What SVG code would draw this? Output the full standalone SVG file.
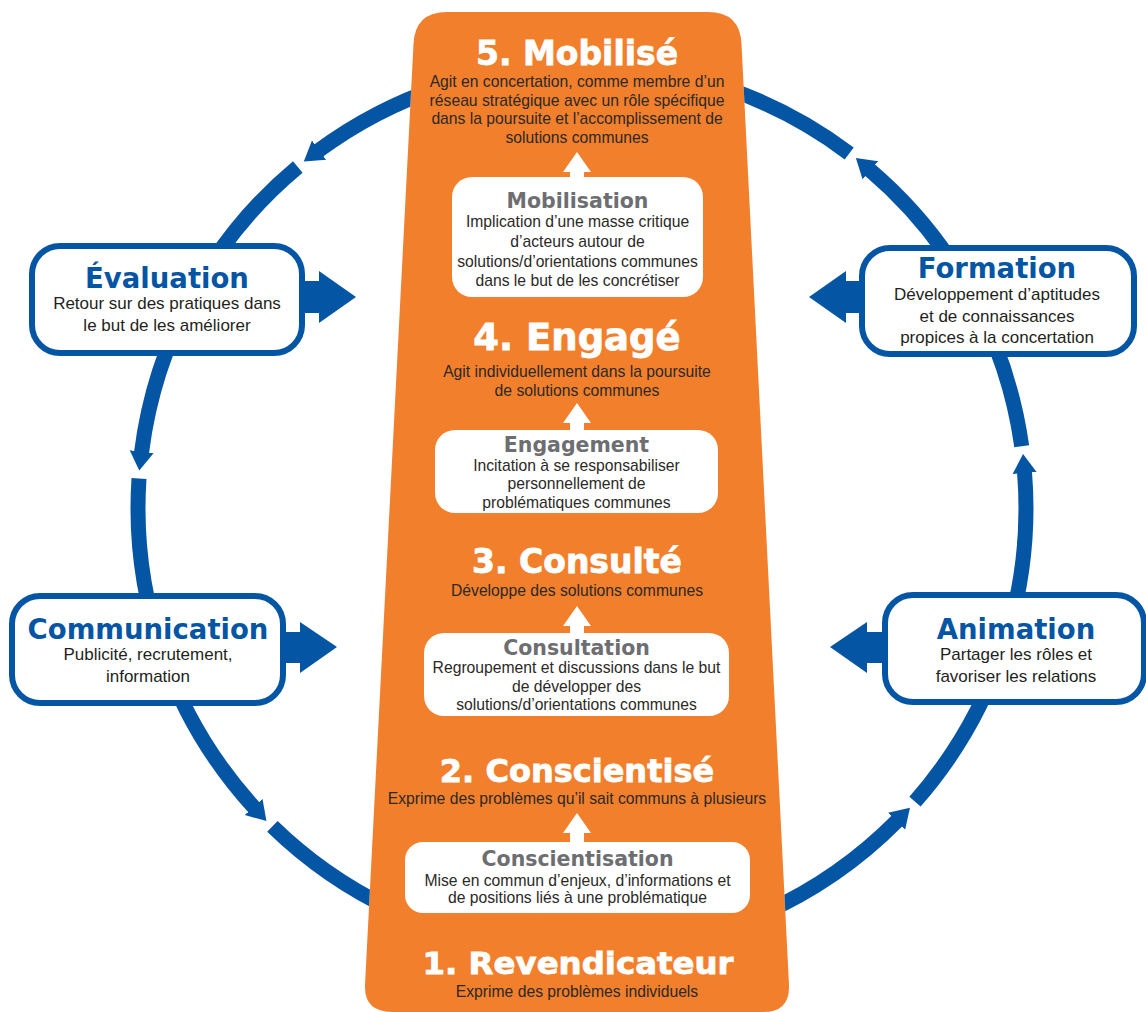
<svg xmlns="http://www.w3.org/2000/svg" width="1146" height="1012" viewBox="0 0 1146 1012">
<style>
.arc{fill:none;stroke:#0455A4;stroke-width:15;marker-end:url(#ah)}
.blk{fill:#0455A4}
.up{fill:#fff}
.col{fill:#F27F2C}
.wbox{fill:#fff}
.box{fill:#fff;stroke:#0455A4;stroke-width:6}
.h{font-family:"DejaVu Sans",sans-serif;font-weight:bold;fill:#fff;stroke:#fff;stroke-width:0.8;text-anchor:middle}
.t{font-family:"Liberation Sans",Arial,sans-serif;font-size:15.7px;fill:#2b2926;text-anchor:middle}
.g{font-family:"DejaVu Sans",sans-serif;font-weight:bold;font-size:20.5px;fill:#6d6e71;text-anchor:middle}
.bt{font-family:"DejaVu Sans",sans-serif;font-weight:bold;font-size:27.5px;fill:#0455A4;text-anchor:middle}
.st{font-family:"Liberation Sans",Arial,sans-serif;font-size:17px;fill:#231f20;text-anchor:middle}
</style>
<defs>
<marker id="ah" markerUnits="userSpaceOnUse" markerWidth="20" markerHeight="28" viewBox="0 -14 20 28" refX="1" refY="0" orient="auto">
<path d="M0,-12 L19,0 L0,12 Z" fill="#0455A4"/>
</marker>
<path id="uparrow" d="M0,0 L14,20 L7,20 L7,30 L-7,30 L-7,20 L-14,20 Z"/>
<clipPath id="outside-column">
<path clip-rule="evenodd" d="M0,0 H1146 V1012 H0 Z M447,12 L708,12 Q740,12 741.5,44 L789,985 Q790,1012 763,1012 L392,1012 Q364,1012 365,985 L413.5,44 Q415,12 447,12 Z"/>
</clipPath>
</defs>

<g id="column">
<path class="col" d="M447,12 L708,12 Q740,12 741.5,44 L789,985 Q790,1012 763,1012 L392,1012 Q364,1012 365,985 L413.5,44 Q415,12 447,12 Z"/>
</g>

<g id="connectors">
<g id="cycle" clip-path="url(#outside-column)">
<path class="arc" d="M849.2,153.4 A444,444 0 0 0 318.3,150.8"/>
<path class="arc" d="M297.8,166.9 A444,444 0 0 0 141.5,452.7"/>
<path class="arc" d="M139.0,478.6 A444,444 0 0 0 254.3,807.7"/>
<path class="arc" d="M272.4,826.3 A444,444 0 0 0 897.3,820.6"/>
<path class="arc" d="M915.0,801.6 A444,444 0 0 0 1024.5,472.0"/>
<path class="arc" d="M1021.7,446.2 A444,444 0 0 0 869.6,169.7"/>
</g>
<g id="block-arrows">
<path class="blk" d="M300,281 H319 V271 L356,297 L319,323 V313 H300 Z"/>
<path class="blk" d="M283,632 H300 V622 L337,647 L300,673 V663 H283 Z"/>
<path class="blk" d="M864,281 H846 V271 L809,297 L846,323 V313 H864 Z"/>
<path class="blk" d="M887,632 H867 V622 L830,647 L867,673 V663 H887 Z"/>
</g>
<g id="stage-arrows">
<use href="#uparrow" class="up" x="577" y="152"/>
<use href="#uparrow" class="up" x="577" y="403"/>
<use href="#uparrow" class="up" x="577" y="606"/>
<use href="#uparrow" class="up" x="577" y="813"/>
</g>
</g>

<g id="stage5">
<text class="h" x="577" y="65" font-size="33">5. Mobilisé</text>
<text class="t" x="577" y="87">Agit en concertation, comme membre d’un</text>
<text class="t" x="577" y="106">réseau stratégique avec un rôle spécifique</text>
<text class="t" x="577" y="124">dans la poursuite et l’accomplissement de</text>
<text class="t" x="577" y="143">solutions communes</text>
</g>
<g id="mobilisation">
<rect class="wbox" x="452" y="177" width="251" height="120" rx="20"/>
<text class="g" x="577.5" y="208">Mobilisation</text>
<text class="t" x="577.5" y="227">Implication d’une masse critique</text>
<text class="t" x="577.5" y="247">d’acteurs autour de</text>
<text class="t" x="577.5" y="267">solutions/d’orientations communes</text>
<text class="t" x="577.5" y="286">dans le but de les concrétiser</text>
</g>

<g id="stage4">
<text class="h" x="577" y="350" font-size="37">4. Engagé</text>
<text class="t" x="577" y="377">Agit individuellement dans la poursuite</text>
<text class="t" x="577" y="396">de solutions communes</text>
</g>
<g id="engagement">
<rect class="wbox" x="435" y="430" width="283" height="83" rx="20"/>
<text class="g" x="576.5" y="452">Engagement</text>
<text class="t" x="576.5" y="471">Incitation à se responsabiliser</text>
<text class="t" x="576.5" y="489">personnellement de</text>
<text class="t" x="576.5" y="508">problématiques communes</text>
</g>

<g id="stage3">
<text class="h" x="577" y="573" font-size="33">3. Consulté</text>
<text class="t" x="577" y="596">Développe des solutions communes</text>
</g>
<g id="consultation">
<rect class="wbox" x="424" y="633" width="305" height="83" rx="20"/>
<text class="g" x="576.5" y="655">Consultation</text>
<text class="t" x="576.5" y="673">Regroupement et discussions dans le but</text>
<text class="t" x="576.5" y="692">de développer des</text>
<text class="t" x="576.5" y="710">solutions/d’orientations communes</text>
</g>

<g id="stage2">
<text class="h" x="577" y="782" font-size="32">2. Conscientisé</text>
<text class="t" x="577" y="804">Exprime des problèmes qu’il sait communs à plusieurs</text>
</g>
<g id="conscientisation">
<rect class="wbox" x="405" y="842" width="345" height="71" rx="18"/>
<text class="g" x="577.5" y="866" font-size="18.5">Conscientisation</text>
<text class="t" x="577.5" y="886">Mise en commun d’enjeux, d’informations et</text>
<text class="t" x="577.5" y="903">de positions liés à une problématique</text>
</g>

<g id="stage1">
<text class="h" x="578" y="974" font-size="31" textLength="311" lengthAdjust="spacingAndGlyphs">1. Revendicateur</text>
<text class="t" x="577" y="997">Exprime des problèmes individuels</text>
</g>

<g id="evaluation">
<rect class="box" x="32" y="246" width="270" height="107" rx="28"/>
<text class="bt" x="167" y="288">Évaluation</text>
<text class="st" x="167" y="309">Retour sur des pratiques dans</text>
<text class="st" x="167" y="331">le but de les améliorer</text>
</g>
<g id="communication">
<rect class="box" x="12" y="596" width="271" height="107" rx="28"/>
<text class="bt" x="148" y="639">Communication</text>
<text class="st" x="148" y="660">Publicité, recrutement,</text>
<text class="st" x="148" y="682">information</text>
</g>
<g id="formation">
<rect class="box" x="862" y="248" width="272" height="106" rx="28"/>
<text class="bt" x="997" y="278">Formation</text>
<text class="st" x="997" y="300">Développement d’aptitudes</text>
<text class="st" x="997" y="322">et de connaissances</text>
<text class="st" x="997" y="343">propices à la concertation</text>
</g>
<g id="animation">
<rect class="box" x="885" y="595" width="259" height="107" rx="28"/>
<text class="bt" x="1016" y="639">Animation</text>
<text class="st" x="1016" y="660">Partager les rôles et</text>
<text class="st" x="1016" y="682">favoriser les relations</text>
</g>
</svg>
